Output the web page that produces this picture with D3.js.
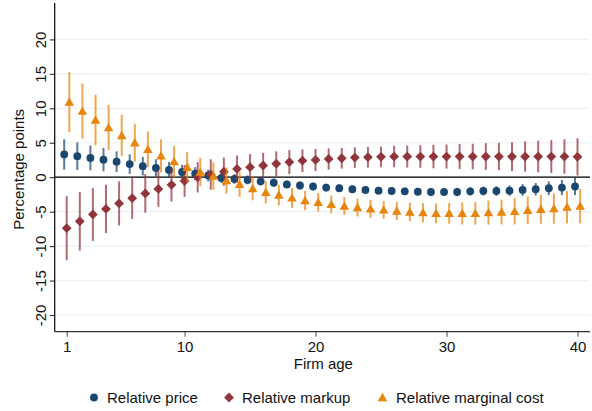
<!DOCTYPE html>
<html>
<head>
<meta charset="utf-8">
<script src="https://cdn.jsdelivr.net/npm/d3@7"></script>
<style>
  html, body { margin: 0; padding: 0; background: #fff; }
  svg { display: block; font-family: "Liberation Sans", Arial, sans-serif; }
</style>
</head>
<body>
<svg id="chart" width="592" height="411"></svg>
<script>
// ---- Data ----
const ages = d3.range(1, 41);
const yTicks = [-20, -15, -10, -5, 0, 5, 10, 15, 20];
const xTicks = [1, 10, 20, 30, 40];

const priceEst = [3.3, 3.05, 2.8, 2.55, 2.25, 1.9, 1.6, 1.35, 1.05, 0.75, 0.5, 0.25,
  -0.1, -0.25, -0.4, -0.6, -0.8, -1.05, -1.2, -1.35, -1.5, -1.6, -1.75, -1.85, -1.95,
  -2.0, -2.05, -2.1, -2.15, -2.15, -2.15, -2.05, -2.0, -2.0, -1.95, -1.85, -1.75, -1.6, -1.5, -1.35];
const priceCI = [2.2, 2.0, 1.8, 1.7, 1.5, 1.42, 1.35, 1.25, 1.15, 1.05, 0.95, 0.85,
  0.75, 0.7, 0.65, 0.6, 0.6, 0.55, 0.55, 0.55, 0.55, 0.55, 0.55, 0.55, 0.55,
  0.55, 0.55, 0.55, 0.55, 0.55, 0.6, 0.6, 0.65, 0.7, 0.75, 0.85, 0.9, 1.0, 1.1, 1.25];

const markupEst = [-7.4, -6.4, -5.4, -4.6, -3.8, -3.05, -2.35, -1.7, -1.1, -0.55, -0.02, 0.4,
  0.8, 1.2, 1.45, 1.7, 1.95, 2.2, 2.4, 2.5, 2.65, 2.75, 2.85, 2.9, 2.95,
  3.0, 3.0, 3.0, 3.0, 3.0, 3.0, 3.0, 3.0, 3.0, 3.0, 3.0, 3.0, 3.0, 3.0, 2.95];
const markupCI = [4.65, 4.25, 3.85, 3.5, 3.2, 3.0, 2.8, 2.6, 2.45, 2.3, 2.2, 2.2,
  2.05, 1.95, 1.9, 1.85, 1.8, 1.75, 1.65, 1.6, 1.55, 1.5, 1.5, 1.5, 1.5,
  1.55, 1.6, 1.65, 1.7, 1.75, 1.8, 1.85, 1.95, 2.0, 2.1, 2.2, 2.3, 2.4, 2.5, 2.7];

const costEst = [10.9, 9.6, 8.3, 7.2, 6.05, 5.0, 4.05, 3.1, 2.25, 1.45, 0.75, 0.15,
  -0.5, -1.05, -1.65, -2.2, -2.6, -3.0, -3.4, -3.65, -3.95, -4.2, -4.4, -4.6, -4.75,
  -4.9, -5.05, -5.15, -5.25, -5.25, -5.25, -5.25, -5.15, -5.05, -4.95, -4.8, -4.65, -4.55, -4.35, -4.2];
const costCI = [4.35, 4.0, 3.65, 3.3, 3.0, 2.75, 2.6, 2.4, 2.3, 2.2, 2.05, 2.0,
  1.9, 1.8, 1.7, 1.6, 1.5, 1.45, 1.4, 1.35, 1.3, 1.3, 1.3, 1.3, 1.3,
  1.3, 1.35, 1.4, 1.45, 1.5, 1.6, 1.65, 1.75, 1.8, 1.9, 2.0, 2.1, 2.2, 2.35, 2.5];

const seriesNames = ["Relative price", "Relative markup", "Relative marginal cost"];

// ---- Layout ----
const svg = d3.select("#chart");
const plotL = 54.7, plotR = 590, plotT = 3, plotB = 331.7;

const x = d3.scaleLinear().domain([1, 40]).range([66.7, 577.5]);
const y = d3.scaleLinear().domain([-20, 20]).range([315, 39.4]);

const colors = ["#1a476f", "#90353b", "#e8850c"];
const offsets = [-0.19, 0, 0.2];
const shapes = [d3.symbolCircle, d3.symbolSquare, d3.symbolTriangle];
const sizes = [48, 48, 40];
const rotations = [0, 45, 0];
const dys = [0, 0, 0.9];

// gridlines
svg.append("g").selectAll("line").data(yTicks).join("line")
  .attr("x1", plotL).attr("x2", plotR)
  .attr("y1", d => y(d)).attr("y2", d => y(d))
  .attr("stroke", "#eaf2f3").attr("stroke-width", 1.2);

// zero line
svg.append("line")
  .attr("x1", plotL).attr("x2", plotR)
  .attr("y1", y(0)).attr("y2", y(0))
  .attr("stroke", "#000").attr("stroke-width", 1.3);

// Y axis
const yAxis = d3.axisLeft(y).tickValues(yTicks).tickSize(5).tickPadding(3).tickFormat(d => String(d));
const gy = svg.append("g").attr("transform", `translate(${plotL},0)`).call(yAxis);
gy.select(".domain").remove();
gy.append("line").attr("x1", 0).attr("x2", 0).attr("y1", plotT).attr("y2", plotB)
  .attr("stroke", "#000").attr("stroke-width", 1.2);
gy.selectAll(".tick line").attr("stroke", "#333").attr("stroke-width", 1.1);
gy.selectAll(".tick text")
  .attr("x", 0).attr("dy", 0)
  .attr("transform", "translate(-8.5,0) rotate(-90)")
  .attr("text-anchor", "middle")
  .attr("font-size", 15)
  .attr("font-family", "Liberation Sans, Arial, sans-serif")
  .attr("fill", "#111");

// X axis
const xAxis = d3.axisBottom(x).tickValues(xTicks).tickSize(5).tickPadding(5).tickFormat(d => String(d));
const gx = svg.append("g").attr("transform", `translate(0,${plotB})`).call(xAxis);
gx.select(".domain").remove();
gx.append("line").attr("x1", plotL).attr("x2", plotR).attr("y1", 0).attr("y2", 0)
  .attr("stroke", "#333").attr("stroke-width", 1.2);
gx.selectAll(".tick line").attr("stroke", "#555").attr("stroke-width", 1.1);
gx.selectAll(".tick text")
  .attr("y", 20.3).attr("dy", 0)
  .attr("font-size", 15)
  .attr("font-family", "Liberation Sans, Arial, sans-serif")
  .attr("fill", "#111");

// Axis titles
svg.append("text")
  .attr("transform", `translate(23.5,${(plotT + plotB) / 2 + 2}) rotate(-90)`)
  .attr("text-anchor", "middle").attr("font-size", 15).attr("fill", "#111")
  .text("Percentage points");
svg.append("text")
  .attr("x", (plotL + plotR) / 2 + 1).attr("y", 369)
  .attr("text-anchor", "middle").attr("font-size", 15).attr("fill", "#111")
  .text("Firm age");

// Series
const est = [priceEst, markupEst, costEst];
const ci = [priceCI, markupCI, costCI];

est.forEach((vals, s) => {
  const data = ages.map((a, i) => ({ age: a, v: vals[i], h: ci[s][i] }));
  const g = svg.append("g");
  g.selectAll("line").data(data).join("line")
    .attr("x1", d => x(d.age + offsets[s])).attr("x2", d => x(d.age + offsets[s]))
    .attr("y1", d => y(d.v - d.h)).attr("y2", d => y(d.v + d.h))
    .attr("stroke", colors[s]).attr("stroke-opacity", 0.72).attr("stroke-width", 2);
  const sym = d3.symbol().type(shapes[s]).size(sizes[s]);
  g.selectAll("path").data(data).join("path")
    .attr("d", sym)
    .attr("transform", d => `translate(${x(d.age + offsets[s])},${y(d.v) + dys[s]}) rotate(${rotations[s]})`)
    .attr("fill", colors[s]);
});

// Legend
const legendItems = [
  { name: seriesNames[0], mx: 94, tx: 107 },
  { name: seriesNames[1], mx: 229, tx: 242 },
  { name: seriesNames[2], mx: 382.5, tx: 396 }
];
const lg = svg.append("g");
legendItems.forEach((it, s) => {
  lg.append("path")
    .attr("d", d3.symbol().type(shapes[s]).size(sizes[s])())
    .attr("transform", `translate(${it.mx},${397.5 + dys[s]}) rotate(${rotations[s]})`)
    .attr("fill", colors[s]);
  lg.append("text").attr("x", it.tx).attr("y", 403)
    .attr("font-size", 15).attr("fill", "#111").text(it.name);
});
</script>
</body>
</html>
